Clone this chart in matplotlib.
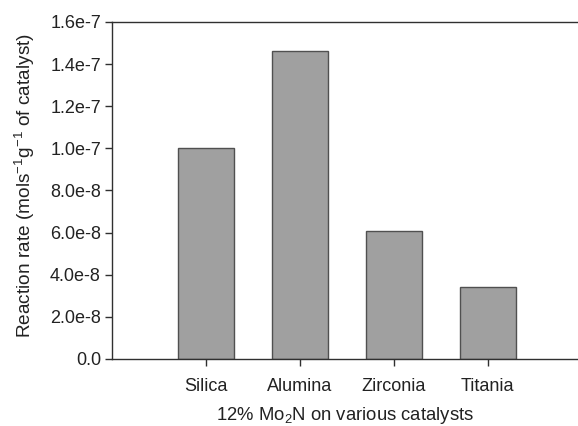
import matplotlib
matplotlib.use("Agg")
import matplotlib.pyplot as plt
import numpy as np

plt.rcParams['font.family'] = ['Liberation Sans', 'DejaVu Sans']
plt.rcParams['mathtext.fontset'] = 'custom'
plt.rcParams['mathtext.rm'] = 'Liberation Sans'
plt.rcParams['mathtext.it'] = 'Liberation Sans:italic'
plt.rcParams['mathtext.default'] = 'rm'

# reaction rate per support
supports = ['Silica', 'Alumina', 'Zirconia', 'Titania']
rates = [1.0e-7, 1.46e-7, 6.1e-8, 3.4e-8]

y_ticks = [0.0, 2e-8, 4e-8, 6e-8, 8e-8, 1.0e-7, 1.2e-7, 1.4e-7, 1.6e-7]
y_tick_labels = ['0.0', '2.0e-8', '4.0e-8', '6.0e-8', '8.0e-8',
                 '1.0e-7', '1.2e-7', '1.4e-7', '1.6e-7']

fig = plt.figure(figsize=(5.78, 4.26), dpi=100)
ax = fig.add_axes([0.1938, 0.1573, 0.8062, 0.7911])

x = np.arange(len(supports))
ax.bar(x, rates, width=0.6, color='#a0a0a0', edgecolor='#505050', linewidth=1.0)

ax.set_xlim(-1, 3.96)
ax.set_ylim(0, 1.6e-7)
ax.set_xticks(x)
ax.set_xticklabels(supports, fontsize=13)
ax.set_yticks(y_ticks)
ax.set_yticklabels(y_tick_labels, fontsize=13)

ax.spines['right'].set_visible(False)
for s in ['left', 'top', 'bottom']:
    ax.spines[s].set_color('#303030')
    ax.spines[s].set_linewidth(1.0)
ax.tick_params(axis='both', direction='out', length=5, width=1.0, color='#303030',
               labelcolor='#222222')
ax.tick_params(axis='x', pad=9)
ax.tick_params(axis='y', pad=3)

ax.set_xlabel('12% Mo$_2$N on various catalysts', fontsize=13.3, color='#222222')
ax.xaxis.set_label_coords(0.5, -0.137)
ax.set_ylabel('Reaction rate (mols$^{-1}$g$^{-1}$ of catalyst)', fontsize=13.7,
              color='#222222')
ax.yaxis.set_label_coords(-0.161, 0.515)

fig.savefig('out.png', dpi=100)
